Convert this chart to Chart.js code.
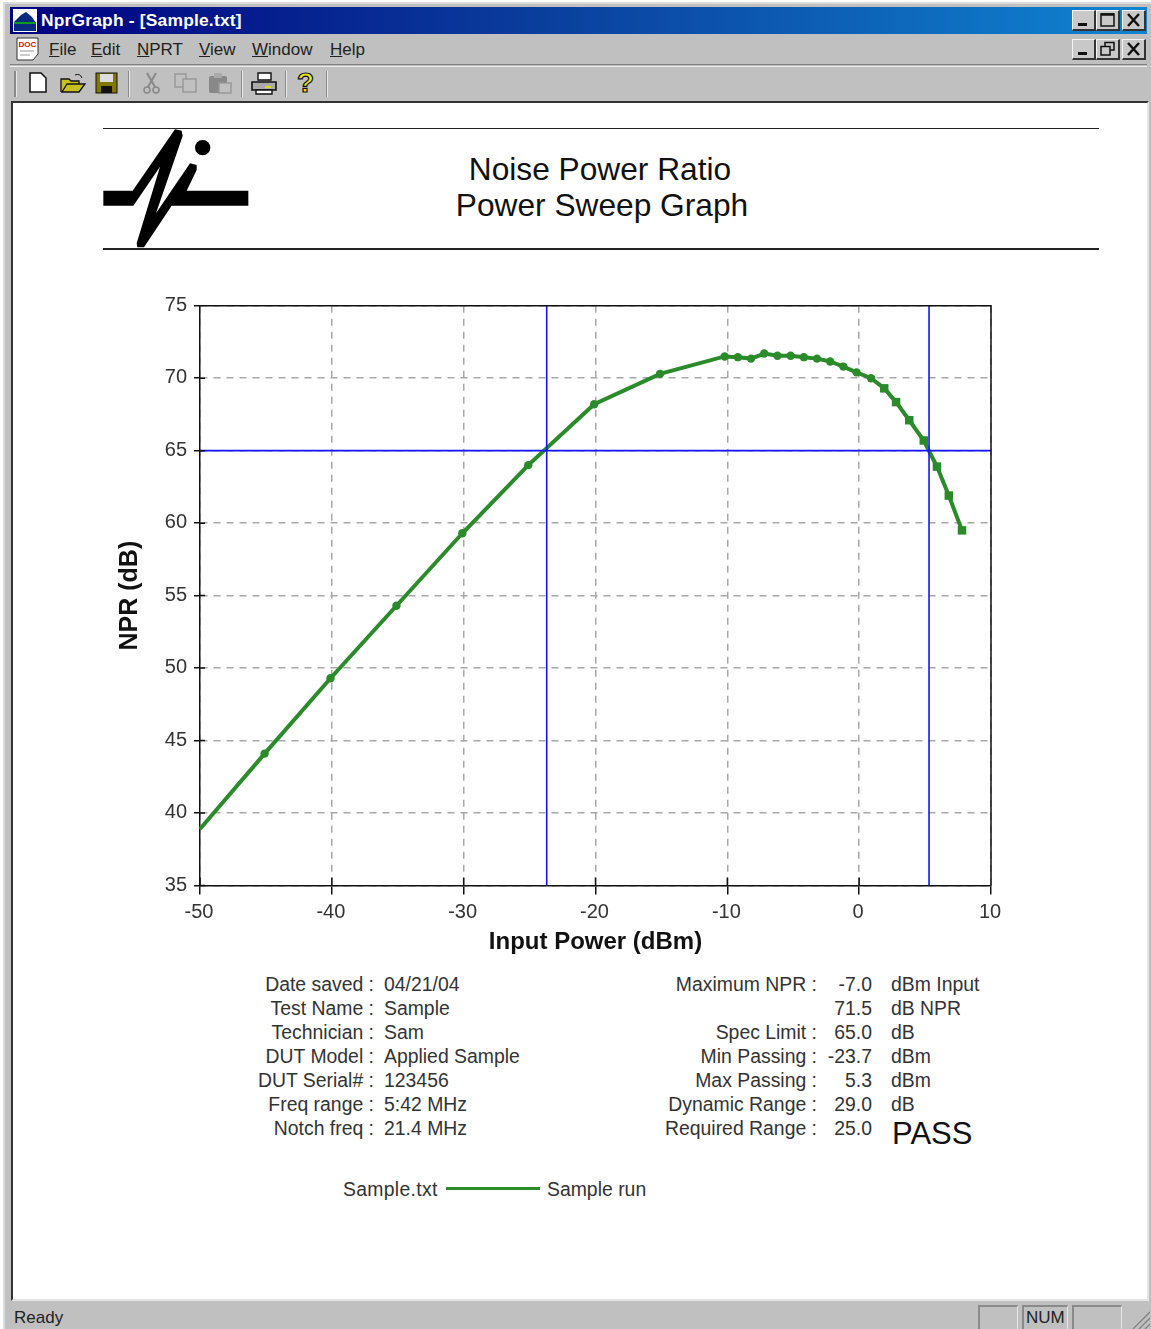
<!DOCTYPE html>
<html>
<head>
<meta charset="utf-8">
<title>NprGraph</title>
<script src="https://cdn.jsdelivr.net/npm/chart.js@4"></script>
<style>
  html, body { margin: 0; padding: 0; background: #fff; overflow: hidden; }
  #win { position: relative; width: 1151px; height: 1329px; overflow: hidden; font-family: "Liberation Sans", Arial, sans-serif; color: #111; filter: blur(0.35px); }
  #win div, #win svg, #win canvas { position: absolute; }
  .frame { left: 3px; top: 2px; width: 1148px; height: 1327px; background: #c0c0c0; border-top: 2px solid #dcdcdc; border-left: 2px solid #dcdcdc; box-sizing: border-box; }
  .titlebar { left: 10px; top: 7px; width: 1137px; height: 27px; background: linear-gradient(90deg, #000080 0%, #0a3c9c 45%, #1084d0 100%); color: #fff; font-weight: bold; font-size: 17.4px; line-height: 27px; }
  .titlebar span { position: absolute; left: 31px; letter-spacing: 0.2px; }
  .menu { top: 39px; font-size: 17px; line-height: 21px; color: #222; }
  .btn { width: 24px; height: 21px; background: #c8c8c8; border-top: 1px solid #f4f4f4; border-left: 1px solid #f4f4f4; border-right: 2px solid #333; border-bottom: 2px solid #333; box-sizing: border-box; }
  .btn svg { left: 0; top: 0; }
  .hr1 { left: 10px; width: 1137px; height: 1px; background: #808080; }
  .hr2 { left: 10px; width: 1137px; height: 1px; background: #ececec; }
  .sep { top: 71px; width: 2px; height: 26px; background: linear-gradient(90deg, #8a8a8a 50%, #e8e8e8 50%); }
  .client { left: 11px; top: 101px; width: 1138px; height: 1200px; background: #fff; border-top: 2px solid #333; border-left: 2px solid #333; border-right: 2px solid #e4e4e4; border-bottom: 2px solid #e4e4e4; box-sizing: border-box; }
  .rule { left: 103px; width: 996px; height: 1.5px; background: #222; }
  .head { left: 303px; width: 600px; text-align: center; font-size: 31.7px; line-height: 36px; color: #111; }
  .lbl, .val { font-size: 19.4px; line-height: 24px; white-space: nowrap; color: #333; }
  .lbl { text-align: right; }
  .status { top: 1308px; font-size: 17px; line-height: 20px; color: #222; }
  .cell { top: 1305px; height: 24px; border-top: 2px solid #8a8a8a; border-left: 2px solid #8a8a8a; border-right: 1px solid #e6e6e6; box-sizing: border-box; }
</style>
</head>
<body>
<div id="win">
  <div class="frame"></div>
  <div class="titlebar"><span>NprGraph - [Sample.txt]</span></div>
  <svg style="left:13px;top:9px" width="24" height="23" viewBox="0 0 24 23">
    <rect width="24" height="23" fill="#fff"/><path d="M1 13 L8 6 L13 3 L19 8 L23 14 L23 22 L1 22Z" fill="#0a2a80"/><rect x="1" y="13" width="22" height="2" fill="#0c9a1c"/>
  </svg>
  <div class="btn" style="left:1072px;top:10px"><svg width="21" height="18"><rect x="5" y="12" width="9" height="3" fill="#111"/></svg></div>
  <div class="btn" style="left:1096px;top:10px"><svg width="21" height="18"><path d="M4 3H17V15H4Z" fill="none" stroke="#111" stroke-width="1.5"/><path d="M4 3.500H17" stroke="#111" stroke-width="2.500"/></svg></div>
  <div class="btn" style="left:1122px;top:10px"><svg width="21" height="18"><path d="M5 3L16 15M16 3L5 15" stroke="#111" stroke-width="2.500"/></svg></div>
  <svg style="left:16px;top:37px" width="24" height="24" viewBox="0 0 24 24">
    <path d="M1 1 H22 V17 L17 23 H1Z" fill="#fff" stroke="#333"/><text x="2.5" y="10" font-size="8" font-weight="bold" fill="#d01010" font-family="Liberation Sans">DOC</text>
    <path d="M4 14H18M4 18H14" stroke="#999"/>
  </svg>
  <div class="menu" style="left:49px"><u>F</u>ile</div>
  <div class="menu" style="left:91px"><u>E</u>dit</div>
  <div class="menu" style="left:137px"><u>N</u>PRT</div>
  <div class="menu" style="left:199px"><u>V</u>iew</div>
  <div class="menu" style="left:252px"><u>W</u>indow</div>
  <div class="menu" style="left:330px"><u>H</u>elp</div>
  <div class="btn" style="left:1072px;top:39px"><svg width="21" height="18"><rect x="5" y="12" width="9" height="3" fill="#111"/></svg></div>
  <div class="btn" style="left:1096px;top:39px"><svg width="21" height="18"><path d="M8 6V2.500H17V10H13M4 6.500H13V15H4Z" fill="none" stroke="#111" stroke-width="1.500"/></svg></div>
  <div class="btn" style="left:1122px;top:39px"><svg width="21" height="18"><path d="M5 3L16 15M16 3L5 15" stroke="#111" stroke-width="2.500"/></svg></div>
  <div class="hr1" style="top:64px"></div><div class="hr2" style="top:66px"></div>

  <div class="sep" style="left:14px;width:3px"></div>
  <svg style="left:28px;top:72px" width="20" height="22" viewBox="0 0 20 22"><path d="M2 1H13L18 6V20H2Z" fill="#fff" stroke="#111" stroke-width="1.5"/></svg>
  <svg style="left:60px;top:72px" width="26" height="22" viewBox="0 0 26 22"><path d="M1 20V7H9L11 9H19V12H7L2 20H19L25 12H8" fill="#c8c020" stroke="#111" stroke-width="1.3"/><path d="M15 3 Q20 1 22 6" fill="none" stroke="#111"/></svg>
  <svg style="left:95px;top:72px" width="24" height="22" viewBox="0 0 24 22"><rect x="1" y="1" width="21" height="20" fill="#807800" stroke="#111"/><rect x="5" y="2" width="13" height="8" fill="#ddd"/><rect x="6" y="14" width="11" height="7" fill="#111"/></svg>
  <div class="sep" style="left:128px"></div>
  <svg style="left:143px;top:72px" width="17" height="22" viewBox="0 0 17 22"><path d="M4 1L12 15M13 1L5 15" stroke="#888" stroke-width="2" fill="none"/><circle cx="4" cy="18" r="3" fill="none" stroke="#888" stroke-width="1.5"/><circle cx="13" cy="18" r="3" fill="none" stroke="#888" stroke-width="1.5"/></svg>
  <svg style="left:174px;top:72px" width="24" height="22" viewBox="0 0 24 22"><rect x="1" y="2" width="11" height="13" fill="none" stroke="#999" stroke-width="1.5"/><rect x="9" y="7" width="13" height="13" fill="#c0c0c0" stroke="#999" stroke-width="1.5"/></svg>
  <svg style="left:208px;top:72px" width="25" height="23" viewBox="0 0 25 23"><rect x="1" y="4" width="18" height="17" rx="2" fill="#888"/><rect x="6" y="1" width="8" height="5" fill="#aaa"/><rect x="11" y="11" width="12" height="10" fill="#c0c0c0" stroke="#999" stroke-width="1.5"/></svg>
  <div class="sep" style="left:241px"></div>
  <svg style="left:251px;top:71px" width="26" height="24" viewBox="0 0 26 24"><path d="M7 2H20V9H7Z" fill="#fff" stroke="#111" stroke-width="1.4"/><path d="M1 11H25V19H1Z" fill="#aaa" stroke="#111" stroke-width="1.6"/><path d="M5 19H21V23H5Z" fill="#fff" stroke="#111" stroke-width="1.4"/><rect x="14" y="15" width="6" height="2" fill="#dada20"/></svg>
  <div class="sep" style="left:285px"></div>
  <div style="left:297px;top:67px;font-size:28px;line-height:32px;font-weight:bold;color:#e8e820;-webkit-text-stroke:1.2px #111">?</div>
  <div class="sep" style="left:326px"></div>

  <div class="client"></div>
  <div class="rule" style="top:127.5px"></div>
  <div class="rule" style="top:248px"></div>
  <svg style="left:0;top:0" width="400" height="260" viewBox="0 0 1200 780">
    <path d="M310 572H398L525 388L545 392L548 408L468 640L570 490L590 495L590 510L560 572H745V617H515L432 742L412 742L410 730L480 500L400 617H310Z" fill="#000"/>
    <circle cx="608" cy="443" r="23" fill="#000"/>
  </svg>
  <div class="head" style="top:151px;left:300px">Noise Power Ratio</div>
  <div class="head" style="top:187px;left:302px">Power Sweep Graph</div>

  <canvas id="nprChart" width="920" height="690" style="left:100px;top:280px"></canvas>

  <div id="info"></div>
  <div class="val" style="left:892px;top:1116px;font-size:31px;line-height:36px;color:#111">PASS</div>

  <div class="val" style="left:343px;top:1177px;letter-spacing:.3px">Sample.txt</div>
  <div style="left:446px;top:1187px;width:94px;height:3px;background:#2b8b2b"></div>
  <div class="val" style="left:547px;top:1177px">Sample run</div>

  <div class="status" style="left:14px">Ready</div>
  <div class="cell" style="left:978px;width:40px"></div>
  <div class="cell" style="left:1022px;width:46px;font-size:17px;line-height:22px;padding-left:2px;color:#222">NUM</div>
  <div class="cell" style="left:1072px;width:50px"></div>
  <svg style="left:1132px;top:1311px" width="18" height="18" viewBox="0 0 18 18"><path d="M1 18L18 1M7 18L18 7M13 18L18 13" stroke="#808080" stroke-width="1.3"/></svg>
</div>

<script>
const inputPower = [
  -50, -45.1, -40.1, -35.1, -30.1, -25.1, -20.1, -15.1, -10.2, -9.2, -8.2, -7.2, -6.2, -5.2, -4.2,
  -3.2, -2.2, -1.2, -0.2, 0.9, 1.9, 2.8, 3.8, 4.9, 5.9, 6.8, 7.8
];
const nprValues = [
  38.9, 44.1, 49.3, 54.3, 59.3, 64.0, 68.2, 70.3, 71.5, 71.45, 71.35, 71.7, 71.55, 71.55, 71.45,
  71.35, 71.15, 70.8, 70.4, 70.0, 69.3, 68.35, 67.1, 65.7, 63.9, 61.9, 59.5
];

const specLimit = 65;
const minPassing = -23.7;
const maxPassing = 5.3;

const xRange = [-50, 10];
const yRange = [35, 75];

const leftLabels = ['Date saved :', 'Test Name :', 'Technician :', 'DUT Model :', 'DUT Serial# :', 'Freq range :', 'Notch freq :'];
const leftValues = ['04/21/04', 'Sample', 'Sam', 'Applied Sample', '123456', '5:42 MHz', '21.4 MHz'];
const rightLabels = ['Maximum NPR :', '', 'Spec Limit :', 'Min Passing :', 'Max Passing :', 'Dynamic Range :', 'Required Range :'];
const rightValues = ['-7.0', '71.5', '65.0', '-23.7', '5.3', '29.0', '25.0'];
const rightUnits = ['dBm Input', 'dB NPR', 'dB', 'dBm', 'dBm', 'dB', ''];

const info = document.getElementById('info');
function addText(cls, text, style) {
  const d = document.createElement('div');
  d.className = cls;
  d.textContent = text;
  d.style.cssText = style;
  info.appendChild(d);
}
leftLabels.forEach((label, i) => {
  const top = 972 + i * 24;
  addText('lbl', label, `left:174px;width:200px;top:${top}px`);
  addText('val', leftValues[i], `left:384px;top:${top}px`);
  addText('lbl', rightLabels[i], `left:567px;width:250px;top:${top}px`);
  addText('lbl', rightValues[i], `left:792px;width:80px;top:${top}px`);
  addText('val', rightUnits[i], `left:891px;top:${top}px`);
});

// top and right edges of the plot box, plus the tick stubs that cross into it
const plotFrame = {
  id: 'plotFrame',
  afterDatasetsDraw(chart) {
    const { ctx, chartArea: a, scales } = chart;
    ctx.save();
    ctx.strokeStyle = '#111';
    ctx.lineWidth = 1.5;
    ctx.beginPath();
    ctx.moveTo(a.left, a.top);
    ctx.lineTo(a.right, a.top);
    ctx.lineTo(a.right, a.bottom);
    scales.x.ticks.forEach(t => {
      const px = scales.x.getPixelForValue(t.value);
      ctx.moveTo(px, a.bottom);
      ctx.lineTo(px, a.bottom - 8);
    });
    scales.y.ticks.forEach(t => {
      const py = scales.y.getPixelForValue(t.value);
      ctx.moveTo(a.left, py);
      ctx.lineTo(a.left + 5, py);
    });
    ctx.stroke();
    ctx.restore();
  }
};

const fontFamily = '"Liberation Sans", Arial, sans-serif';
const tickFont = { family: fontFamily, size: 20 };
const gridOpts = { color: '#a8a8a8', lineWidth: 1.5, tickColor: '#111', tickBorderDash: [], tickWidth: 1.5 };
const borderOpts = { color: '#111', width: 1.5, dash: [7, 6] };
const blueLine = { showLine: true, borderColor: '#1414ff', borderWidth: 1.6, pointRadius: 0 };

const nprChart = new Chart(document.getElementById('nprChart'), {
  type: 'scatter',
  data: {
    datasets: [
      { label: 'Spec Limit', data: xRange.map(x => ({ x, y: specLimit })), ...blueLine },
      { label: 'Min Passing', data: yRange.map(y => ({ x: minPassing, y })), ...blueLine },
      { label: 'Max Passing', data: yRange.map(y => ({ x: maxPassing, y })), ...blueLine },
      {
        label: 'Sample run',
        data: inputPower.map((x, i) => ({ x, y: nprValues[i] })),
        showLine: true,
        borderColor: '#2b8b2b',
        backgroundColor: '#2b8b2b',
        borderWidth: 4,
        pointRadius: ctx => (ctx.dataIndex === 0 ? 0 : ctx.dataIndex > 19 ? 6 : 4.2),
        pointStyle: ctx => (ctx.dataIndex > 19 ? 'rect' : 'circle'),
        pointBorderWidth: 0
      }
    ]
  },
  options: {
    responsive: false,
    animation: false,
    clip: false,
    layout: { padding: { top: 25.7, right: 29, left: 0, bottom: 0 } },
    plugins: { legend: { display: false }, tooltip: { enabled: false } },
    scales: {
      x: {
        type: 'linear',
        min: xRange[0],
        max: xRange[1],
        afterFit: scale => { scale.height = 84.5; },
        ticks: { stepSize: 10, color: '#333', font: tickFont, padding: 6, maxRotation: 0, labelOffset: -1 },
        grid: { ...gridOpts, tickLength: 9 },
        border: borderOpts,
        title: { display: true, text: 'Input Power (dBm)', color: '#111', font: { family: fontFamily, size: 24, weight: 'bold' }, padding: { top: 0, bottom: 13 } }
      },
      y: {
        type: 'linear',
        min: yRange[0],
        max: yRange[1],
        afterFit: scale => { scale.width = 100; },
        ticks: { stepSize: 5, color: '#333', font: tickFont, padding: 7, labelOffset: -0.5 },
        grid: { ...gridOpts, tickLength: 6 },
        border: borderOpts,
        title: { display: true, text: 'NPR (dB)', color: '#111', font: { family: fontFamily, size: 25, weight: 'bold' }, padding: { top: 15, bottom: 0 } }
      }
    }
  },
  plugins: [plotFrame]
});
</script>
</body>
</html>
